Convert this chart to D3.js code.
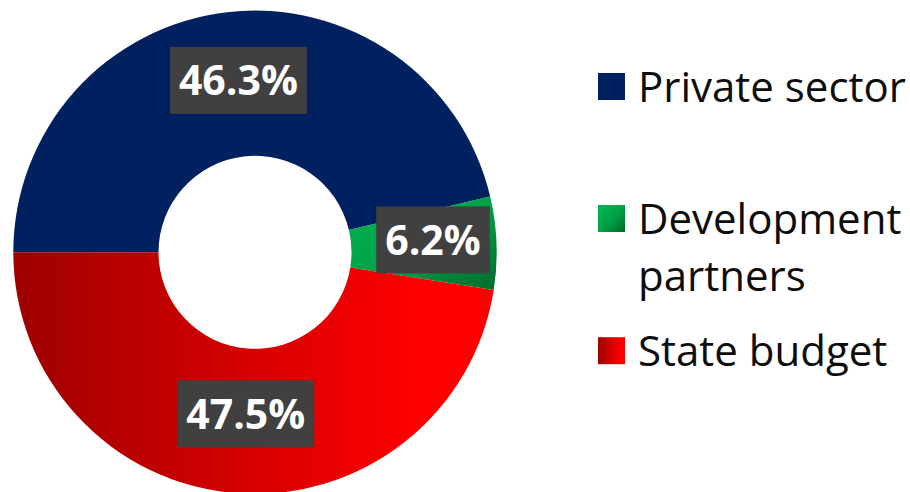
<!DOCTYPE html>
<html>
<head>
<meta charset="utf-8">
<script src="https://cdn.jsdelivr.net/npm/d3@7"></script>
<style>
    body { margin: 0; background: #fff; }
    svg { display: block; }
</style>
</head>
<body>
<script>
// data
var categories = ["Private sector", "Development partners", "State budget"];
var values = [46.3, 6.2, 47.5];
var labels = ["46.3%", "6.2%", "47.5%"];
var legendLines = [["Private sector"], ["Development", "partners"], ["State budget"]];

var width = 910;
var height = 492;

var cx = 255;
var cy = 252.3;
var outerR = 241.7;
var innerR = 96.5;

// small nudges of the label boxes off the ring centroid
var labelNudge = [[3, -4], [9, -6], [4, -7]];

var svg = d3.select("body").append("svg")
    .attr("width", width)
    .attr("height", height);

var defs = svg.append("defs");

// gradients, one per slice
var gradRed = defs.append("linearGradient")
    .attr("id", "grad_red")
    .attr("x1", "0").attr("y1", "0").attr("x2", "1").attr("y2", "0");
gradRed.append("stop").attr("offset", "0").attr("stop-color", "#9e0000");
gradRed.append("stop").attr("offset", "0.85").attr("stop-color", "#ff0000");
gradRed.append("stop").attr("offset", "1").attr("stop-color", "#ff0000");

var gradGreen = defs.append("linearGradient")
    .attr("id", "grad_green")
    .attr("x1", "0").attr("y1", "0").attr("x2", "1").attr("y2", "1");
gradGreen.append("stop").attr("offset", "0").attr("stop-color", "#00b452");
gradGreen.append("stop").attr("offset", "0.5").attr("stop-color", "#00a247");
gradGreen.append("stop").attr("offset", "1").attr("stop-color", "#006b2c");

var fills = ["#012060", "url(#grad_green)", "url(#grad_red)"];

var color = d3.scaleOrdinal()
    .domain(categories)
    .range(fills);

var pie = d3.pie()
    .sort(null)
    .value(function (d) { return d.value; })
    .startAngle(-Math.PI / 2)
    .endAngle(3 * Math.PI / 2);

var data = categories.map(function (c, i) {
    return { name: c, value: values[i], label: labels[i] };
});

var arc = d3.arc()
    .innerRadius(innerR)
    .outerRadius(outerR);

var labelArc = d3.arc()
    .innerRadius((innerR + outerR) / 2)
    .outerRadius((innerR + outerR) / 2);

var g = svg.append("g")
    .attr("transform", "translate(" + cx + "," + cy + ")");

var arcs = pie(data);

g.selectAll("path.slice")
    .data(arcs)
    .enter().append("path")
    .attr("class", "slice")
    .attr("d", arc)
    .style("fill", function (d) { return color(d.data.name); });

// data labels with dark boxes
var lab = g.selectAll("g.label")
    .data(arcs)
    .enter().append("g")
    .attr("class", "label")
    .attr("transform", function (d, i) {
        var c = labelArc.centroid(d);
        return "translate(" + (c[0] + labelNudge[i][0]) + "," + (c[1] + labelNudge[i][1]) + ")";
    });

lab.append("rect")
    .style("fill", "#404040");

lab.append("text")
    .attr("text-anchor", "middle")
    .attr("dy", "0.36em")
    .style("font-family", "'Open Sans', sans-serif")
    .style("font-weight", "bold")
    .style("font-size", "41px")
    .style("fill", "#ffffff")
    .text(function (d) { return d.data.label; });

lab.each(function () {
    var t = d3.select(this).select("text").node();
    var wText = t.getComputedTextLength();
    d3.select(this).select("rect")
        .attr("x", -wText / 2 - 9)
        .attr("y", -33.5)
        .attr("width", wText + 18)
        .attr("height", 67);
});

// legend
var legendYs = [86.5, 218.5, 350.7];

var legend = svg.append("g")
    .attr("class", "legend");

var item = legend.selectAll("g.item")
    .data(categories)
    .enter().append("g")
    .attr("class", "item")
    .attr("transform", function (d, i) { return "translate(598," + legendYs[i] + ")"; });

item.append("rect")
    .attr("x", 0)
    .attr("y", -13.5)
    .attr("width", 27)
    .attr("height", 27)
    .style("fill", function (d) { return color(d); });

item.append("text")
    .attr("x", 40)
    .attr("y", 15)
    .style("font-family", "'Open Sans', sans-serif")
    .style("font-size", "42px")
    .style("fill", "#0d0d0d")
    .each(function (d, i) {
        var t = d3.select(this);
        legendLines[i].forEach(function (line, k) {
            t.append("tspan")
                .attr("x", 40)
                .attr("dy", k === 0 ? 0 : 57)
                .text(line);
        });
    });
</script>
</body>
</html>
